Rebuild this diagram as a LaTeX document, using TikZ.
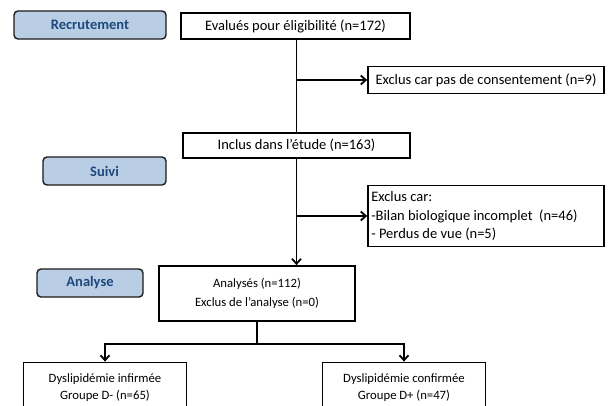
\documentclass[tikz,border=0pt]{standalone}
\usepackage{fontspec}
\setmainfont{Carlito}
\usetikzlibrary{arrows.meta}
\definecolor{phasefill}{HTML}{B9CDE5}
\definecolor{phasetext}{HTML}{1F497D}
\definecolor{phaseline}{HTML}{1A1A1A}
\newcommand{\boxfont}{\fontsize{14.5}{18.5}\selectfont}
\newcommand{\smallboxfont}{\fontsize{12.7}{18.5}\selectfont}
\begin{document}
\begin{tikzpicture}[x=1pt,y=-1pt,
  box/.style={draw=black,line width=1.8pt,fill=white,inner sep=2pt,font=\boxfont,align=center},
  sbox/.style={box,font=\smallboxfont},
  plain/.style={inner sep=0pt,font=\boxfont,align=left},
  phase/.style={draw=phaseline,line width=1.4pt,fill=phasefill,rounded corners=4pt,font=\fontsize{14.5}{16}\selectfont\bfseries,text=phasetext},
  conn/.style={line width=1.8pt},
  arr/.style={conn,-{Straight Barb[length=5pt,width=9pt,line width=1.8pt]}}]
\useasboundingbox (0,0) rectangle (609,405);
\clip (0,0) rectangle (609,405);
% phase labels
\node[phase,minimum width=152pt,minimum height=28pt] (rec) at (90,25) {Recrutement};
\node[phase,minimum width=123pt,minimum height=28pt] (suivi) at (104.5,171) {Suivi};
\node[phase,minimum width=106pt,minimum height=28pt] (ana) at (90,283) {Analyse};
% flow boxes
\node[box,minimum width=229pt,minimum height=26pt] (eval) at (295.5,26) {Evalués pour éligibilité (n=172)};
\node[box,minimum width=236pt,minimum height=27pt] (excl1) at (486,80) {Exclus car pas de consentement (n=9)};
\node[box,minimum width=227pt,minimum height=25pt] (incl) at (296.5,145.5) {Inclus dans l’étude (n=163)};
\node[box,minimum width=236pt,minimum height=61pt] (excl2) at (486,216) {};
\node[plain,anchor=west] (excl2t) at ([xshift=4pt]excl2.west) {Exclus car:\\-Bilan biologique incomplet~~(n=46)\\- Perdus de vue (n=5)};
\node[sbox,minimum width=196pt,minimum height=55pt] (anal) at (257,293.5) {Analysés (n=112)\\Exclus de l’analyse (n=0)};
\node[sbox,minimum width=163pt,minimum height=50pt,font=\fontsize{12.7}{17.5}\selectfont] (dm) at (105,387.5) {Dyslipidémie infirmée\\Groupe D- (n=65)};
\node[sbox,minimum width=163pt,minimum height=50pt,font=\fontsize{12.7}{17.5}\selectfont] (dp) at (404,387.5) {Dyslipidémie confirmée\\Groupe D+ (n=47)};
% connectors
\draw[conn] (eval.south -| incl.north) -- (incl.north);
\draw[arr] (incl.north |- excl1.west) -- (excl1.west);
\draw[arr] (incl.south) -- (anal.north -| incl.south);
\draw[arr] (incl.south |- excl2.west) -- (excl2.west);
\coordinate (split) at (257,344);
\draw[conn] (anal.south) -- (split);
\draw[arr] (split) -| (dm.north);
\draw[arr] (split) -| (dp.north);
\end{tikzpicture}
\end{document}
